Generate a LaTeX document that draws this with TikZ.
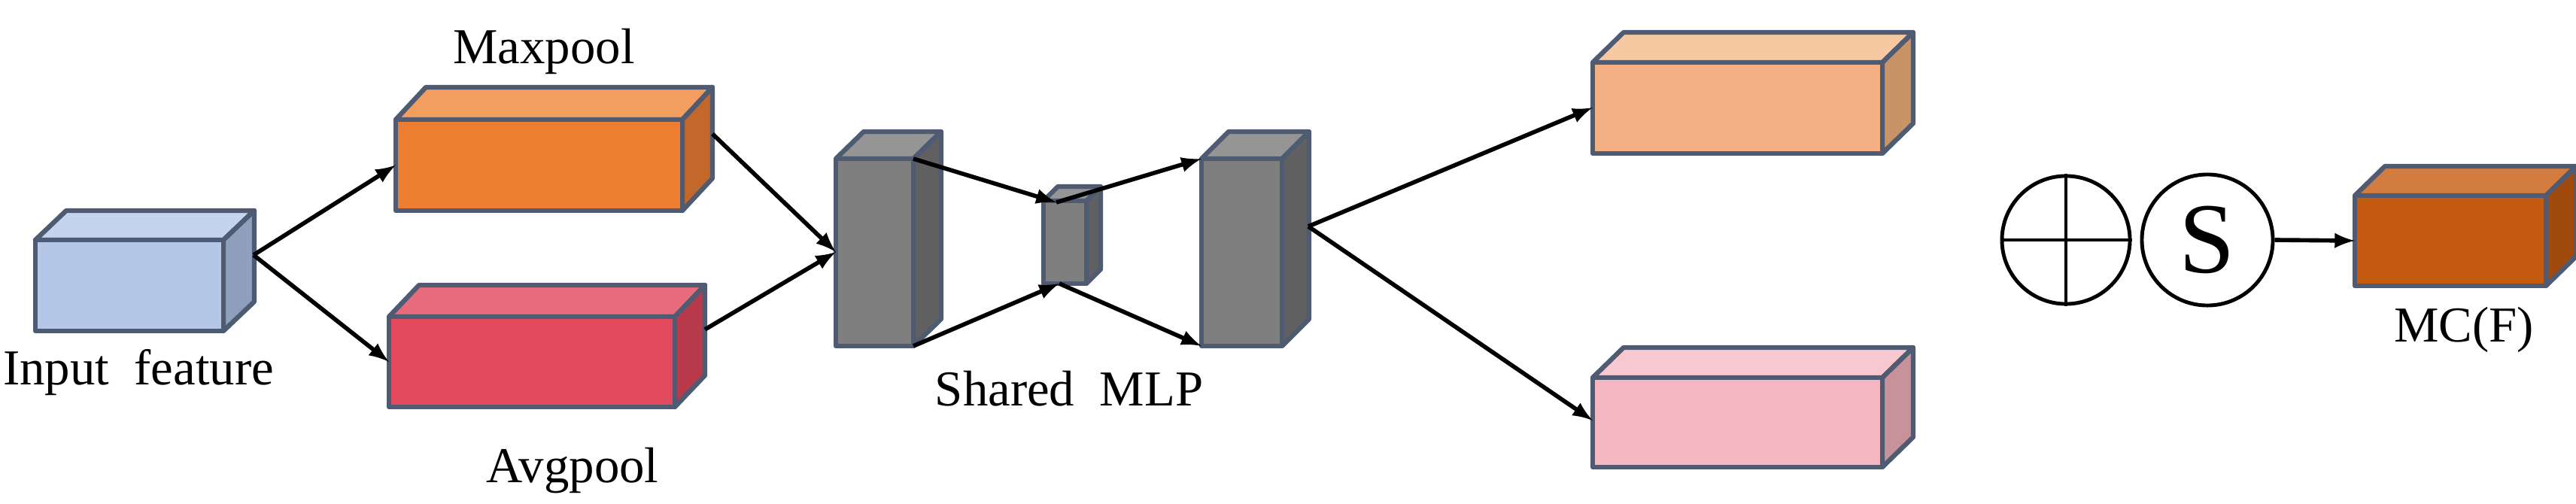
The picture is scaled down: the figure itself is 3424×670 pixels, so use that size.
\documentclass[tikz,border=0pt]{standalone}
\usepackage{fontspec}
\setmainfont{Liberation Serif}
\begin{document}
\begin{tikzpicture}[x=0.01cm,y=-0.01cm,
  face/.style={draw=edgec,line width=1.8pt,line join=round},
  arr/.style={-latex,line width=1.6pt},
  lab/.style={font=\fontsize{19}{22}\selectfont,inner sep=0pt}]
\definecolor{edgec}{HTML}{4F5B73}
\useasboundingbox (0,0) rectangle (3424,670);
\newcommand\cuboid[9]{%
  \fill[#9,face] (#2,#3) -- (#2+#6,#3-#7) -- (#4+#6,#3-#7) -- (#4,#3) -- cycle;
  \fill[\sidecol,face] (#4,#3) -- (#4+#6,#3-#7) -- (#4+#6,#5-#7) -- (#4,#5) -- cycle;
  \fill[#8,face] (#2,#3) rectangle (#4,#5);
  \coordinate (#1-nw) at (#2,#3); \coordinate (#1-sw) at (#2,#5);
  \coordinate (#1-ne) at (#4,#3); \coordinate (#1-se) at (#4,#5);
  \coordinate (#1-w) at (#2,{(#3+#5)/2});
  \coordinate (#1-e) at ({#4+#6/2},{(#3+#5)/2-#7/2});}
\definecolor{inF}{HTML}{B4C7E7}\definecolor{inT}{HTML}{C5D4EE}\definecolor{inS}{HTML}{8FA0BC}
\definecolor{mxF}{HTML}{ED7D31}\definecolor{mxT}{HTML}{F19E5F}\definecolor{mxS}{HTML}{C2682A}
\definecolor{avF}{HTML}{E34A5D}\definecolor{avT}{HTML}{E86B7B}\definecolor{avS}{HTML}{B83A4A}
\definecolor{gF}{HTML}{7F7F7F}\definecolor{gT}{HTML}{959595}\definecolor{gS}{HTML}{606060}
\definecolor{loF}{HTML}{F4B183}\definecolor{loT}{HTML}{F8C8A0}\definecolor{loS}{HTML}{C89466}
\definecolor{pkF}{HTML}{F4B6C0}\definecolor{pkT}{HTML}{F8C8D0}\definecolor{pkS}{HTML}{C8929A}
\definecolor{mcF}{HTML}{C55A11}\definecolor{mcT}{HTML}{D27D3F}\definecolor{mcS}{HTML}{A04A0E}
\def\sidecol{inS}\cuboid{in}{47}{319}{297}{440}{41}{39}{inF}{inT}
\def\sidecol{mxS}\cuboid{mx}{526}{159}{907}{280}{40}{43}{mxF}{mxT}
\def\sidecol{avS}\cuboid{av}{517}{421}{897}{541}{40}{42}{avF}{avT}
\def\sidecol{gS}\cuboid{g1}{1111}{211}{1214}{460}{37}{36}{gF}{gT}
\def\sidecol{gS}\cuboid{sm}{1387}{267}{1444}{377}{19}{19}{gF}{gT}
\def\sidecol{gS}\cuboid{g2}{1597}{211}{1704}{460}{36}{36}{gF}{gT}
\def\sidecol{loS}\cuboid{lo}{2117}{83}{2502}{204}{41}{40}{loF}{loT}
\def\sidecol{pkS}\cuboid{pk}{2117}{502}{2502}{621}{41}{40}{pkF}{pkT}
\def\sidecol{mcS}\cuboid{mc}{3130}{260}{3384}{380}{40}{39}{mcF}{mcT}
\node[lab] (tmx) at (723,68) {Maxpool};
\node[lab] (tav) at (761,626) {Avgpool};
\node[lab] (tin) at (184,495) {Input\ \ feature};
\node[lab] (tml) at (1421,517) {Shared\ \ MLP};
\node[lab] (tmc) at (3275,438) {MC(F)};
\node[circle,draw,line width=1.4pt,minimum size=1.7cm,inner sep=0pt] (plus) at (2746,319) {};
\draw[line width=1.4pt] (plus.north) -- (plus.south) (plus.west) -- (plus.east);
\node[circle,draw,line width=1.4pt,minimum size=1.74cm,inner sep=0pt,font=\fontsize{38}{40}\selectfont] (sig) at (2934,319) {S};
\coordinate (inE) at (337,339);
\coordinate (mxE) at (947,178);
\coordinate (avE) at (937,438);
\coordinate (g1in) at (1111,335);
\coordinate (smT) at (1404,269);
\coordinate (smB) at (1408,377);
\coordinate (g2E) at (1739,301);
\coordinate (loW) at (2117,143);
\coordinate (pkW) at (2117,559);
\draw[arr] (inE) -- (mx-w);
\draw[arr] (inE) -- (av-w);
\draw[arr] (mxE) -- (g1in);
\draw[arr] (avE) -- (g1in);
\draw[arr] (g1-ne) -- (smT);
\draw[arr] (g1-se) -- (smB);
\draw[arr] (smT) -- (g2-nw);
\draw[arr] (smB) -- (g2-sw);
\draw[arr] (g2E) -- (loW);
\draw[arr] (g2E) -- (pkW);
\draw[arr] (sig.east) -- (mc-w);
\end{tikzpicture}
\end{document}
